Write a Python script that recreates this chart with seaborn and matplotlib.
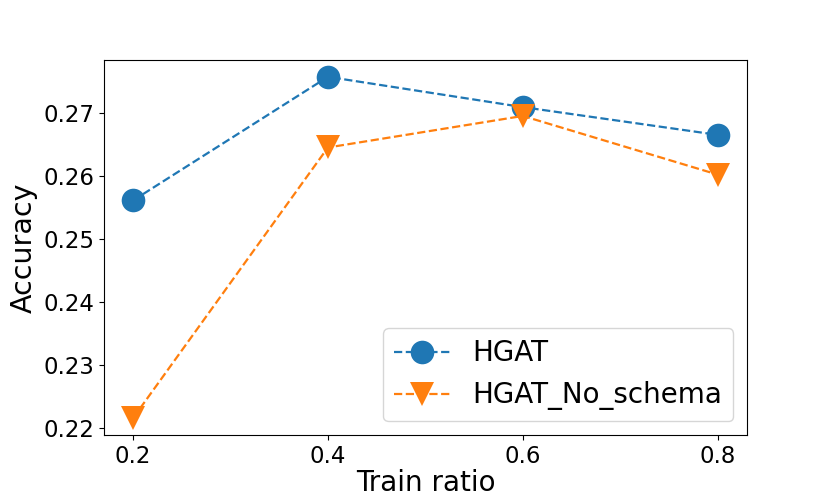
import matplotlib
matplotlib.use("Agg")
import matplotlib.pyplot as plt
import pandas as pd
import seaborn as sns

train_ratio = [0.2, 0.4, 0.6, 0.8]
hgat = [0.2561, 0.2757, 0.2709, 0.2665]
hgat_no_schema = [0.2216, 0.2645, 0.2695, 0.2602]

df = pd.DataFrame({
    'Train ratio': train_ratio * 2,
    'Accuracy': hgat + hgat_no_schema,
    'Model': ['HGAT'] * 4 + ['HGAT_No_schema'] * 4,
})

fig, ax = plt.subplots(figsize=(8.3, 4.98), dpi=100)

for model, marker, color in [('HGAT', 'o', '#1f77b4'), ('HGAT_No_schema', 'v', '#ff7f0e')]:
    sns.lineplot(ax=ax,
                 data=df[df['Model'] == model],
                 x='Train ratio',
                 y='Accuracy',
                 label=model,
                 color=color,
                 marker=marker,
                 markersize=17,
                 markeredgewidth=0,
                 linestyle='--',
                 linewidth=1.6)

ax.set_xticks(train_ratio)
ax.set_yticks([0.22, 0.23, 0.24, 0.25, 0.26, 0.27])
ax.tick_params(labelsize=16.5)
ax.set_xlabel('Train ratio', fontsize=20, labelpad=1)
ax.set_ylabel('Accuracy', fontsize=20.5)
ax.legend(loc='lower right', fontsize=20)

plt.subplots_adjust(left=0.125, right=0.9, top=0.88, bottom=0.126)
plt.savefig('out.png', dpi=100)
